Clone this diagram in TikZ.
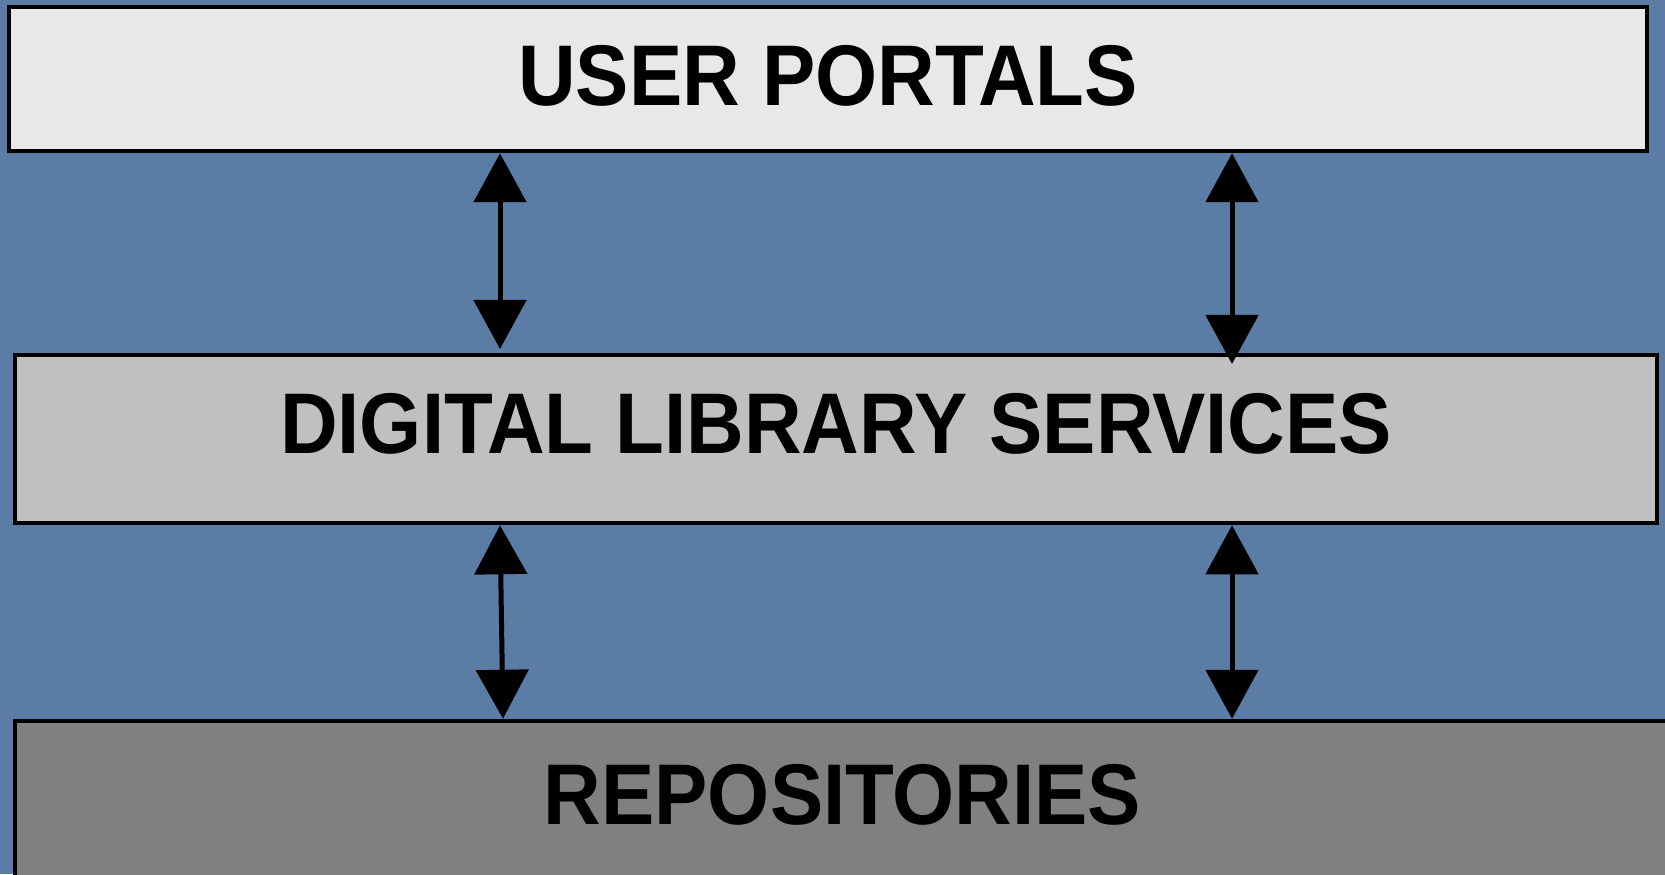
\documentclass[tikz,border=0pt]{standalone}
\usepackage{fontspec}
\newfontfamily\layerfont[FakeStretch=0.927]{Liberation Sans}
\usepackage{tikz}
\usetikzlibrary{arrows.meta}

\definecolor{slate}{RGB}{91,125,165}
\definecolor{paleGrey}{RGB}{232,232,232}
\definecolor{midGrey}{RGB}{192,192,192}
\definecolor{darkGrey}{RGB}{128,128,128}

\tikzset{
	layer/.style={draw=black, line width=0.09cm, inner sep=0pt,
		font=\layerfont\bfseries\fontsize{49}{49}\selectfont},
	link/.style={line width=0.1cm,
		{Triangle[length=0.98cm,width=1.04cm]}-{Triangle[length=0.98cm,width=1.04cm]}}
}

\begin{document}
\begin{tikzpicture}
	
	% the page, with the blue backdrop
	\fill[slate] (0,0) rectangle (33.30,17.48);
	\useasboundingbox (0,0) rectangle (33.30,17.48);
	
	% the three layers, top to bottom
	%		TEXT DEPTH LIFTS THE WORDS A LITTLE ABOVE THE MIDDLE
	\node[layer, fill=paleGrey, minimum width=32.76cm, minimum height=2.88cm,
		text depth=0.16cm] (UP) at (16.56,15.90) {USER PORTALS};
	\node[layer, fill=midGrey, minimum width=32.84cm, minimum height=3.36cm,
		text depth=0.64cm] (DLS) at (16.72,8.70) {DIGITAL LIBRARY SERVICES};
	\node[layer, fill=darkGrey, minimum width=33.10cm, minimum height=3.58cm,
		text depth=0.66cm] (REP) at (16.85,1.27) {REPOSITORIES};
	
	% the columns that the links stand on
	\coordinate (L1) at (10.00,0);
	\coordinate (L2) at (10.06,0);
	\coordinate (R)  at (24.64,0);
	
	% links between the layers
	\draw[link, shorten >=0.075cm] (UP.south -| L1) -- (DLS.north -| L1);
	\draw[link, shorten >=-0.225cm] (UP.south -| R) -- (DLS.north -| R);
	
	\draw[link] (DLS.south -| L1) -- (REP.north -| L2);
	\draw[link] (DLS.south -| R) -- (REP.north -| R);
	
\end{tikzpicture}
\end{document}
